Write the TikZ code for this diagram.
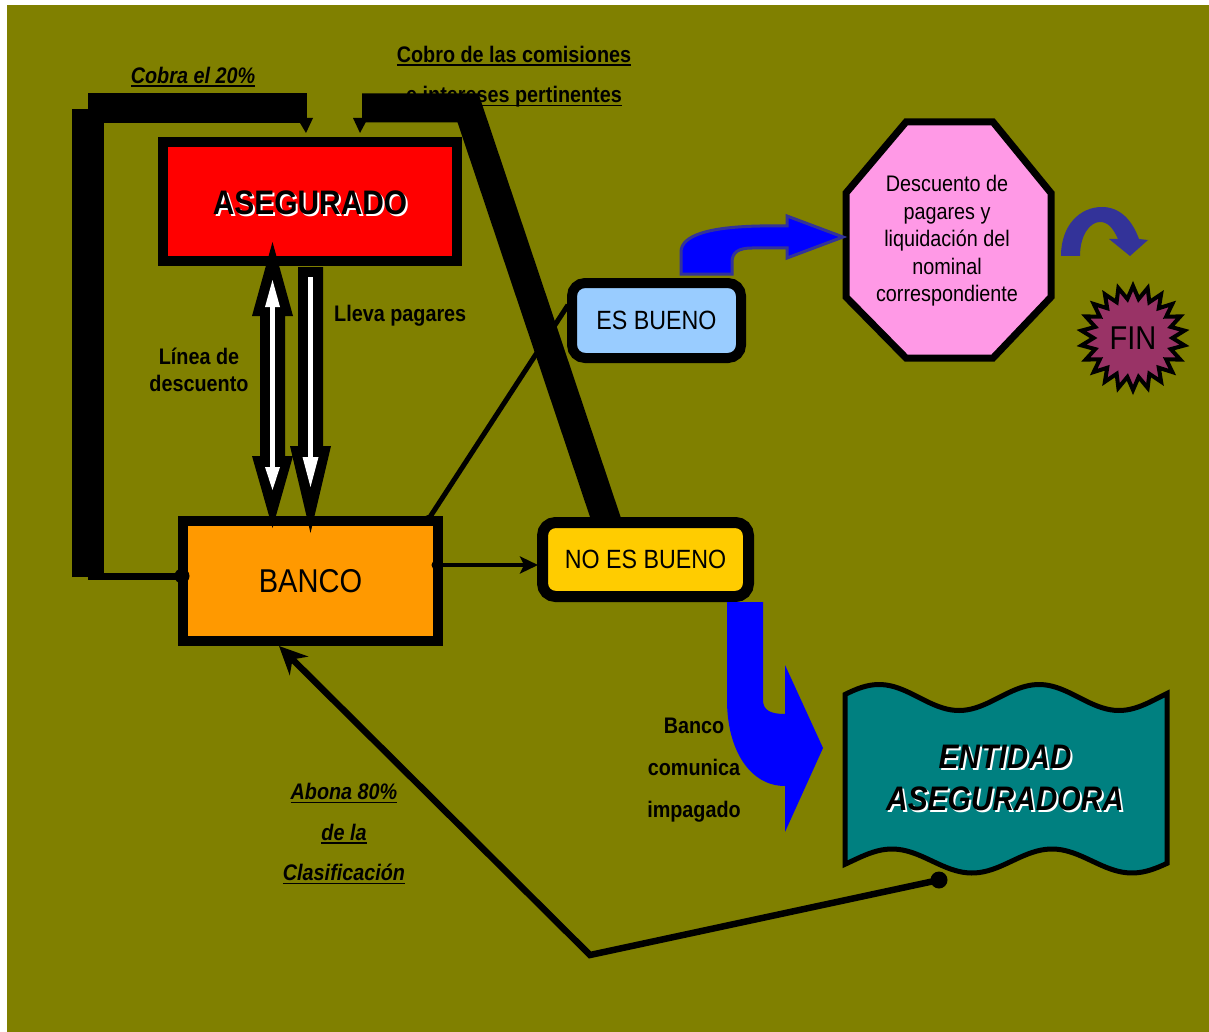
\documentclass[tikz,border=0pt]{standalone}
\usepackage{fontspec}
\setmainfont[FakeStretch=0.88]{Liberation Sans}
\usetikzlibrary{shapes.geometric,arrows.meta,calc}
\definecolor{bgolive}{HTML}{808000}
\definecolor{asred}{HTML}{FF0000}
\definecolor{bankorange}{HTML}{FF9900}
\definecolor{goodblue}{HTML}{99CCFF}
\definecolor{badyellow}{HTML}{FFCC00}
\definecolor{octpink}{HTML}{FF99E6}
\definecolor{entteal}{HTML}{008080}
\definecolor{finpurple}{HTML}{993366}
\definecolor{bblue}{HTML}{0000FF}
\definecolor{slateb}{HTML}{333399}
\newcommand\myul[1]{\setbox0\hbox{#1}\rlap{\rule[-3.5pt]{\wd0}{1.8pt}}\box0}
\tikzset{
  box/.style={draw=black, line width=10pt, inner sep=0pt},
  lbl/.style={font=\bfseries\fontsize{22.5}{27}\selectfont, text=black, inner sep=0pt, align=center},
  ilbl/.style={font=\bfseries\itshape\fontsize{22.5}{27}\selectfont, text=black, inner sep=0pt, align=center},
  bigtitle/.style={font=\bfseries\fontsize{34}{42}\selectfont, inner sep=0pt, align=center},
  ibigtitle/.style={font=\bfseries\itshape\fontsize{34}{42}\selectfont, inner sep=0pt, align=center},
  band/.style={draw=black, line width=30pt, line cap=butt},
  conn/.style={draw=black, line width=5pt},
  dotmark/.style={fill=black}
}
\begin{document}
\begin{tikzpicture}[x=1pt,y=-1pt]
\useasboundingbox (0,0) rectangle (1209,1032);
\fill[white] (0,0) rectangle (1209,1032);
\fill[bgolive] (7,5) rectangle (1209,1032);

% top labels (behind bands)
\node[ilbl] (cobra) at (193,77) {\myul{Cobra el 20\%}};
\node[lbl] (cobro1) at (514,56) {\myul{Cobro de las comisiones}};
\node[lbl] (cobro2) at (514,97) {\myul{e intereses pertinentes}};

% thin connectors
\coordinate (bancoNE) at (428,520);
\coordinate (buenoIn) at (568,305);
\draw[conn] (bancoNE) -- (buenoIn);

% thick bands
\coordinate (lbot) at (88,577);
\coordinate (lcorner) at (88,108);
\coordinate (lend) at (307,108);
\draw[band, line width=32pt] (lbot) -- ($(lcorner)+(0,1)$);
\draw[band] (lcorner) -- (lend);
\fill[black] (297,118) -- (313,118) -- (306,133) -- cycle;
\coordinate (rstart) at (362,108);
\coordinate (rcorner) at (468,108);
\coordinate (rend) at (607,522);
\draw[band, line width=29pt, line join=miter] (rstart) -- (rcorner) -- (rend);
\fill[black] (353,118) -- (368,118) -- (360,133) -- cycle;

% left connector to BANCO
\coordinate (bancoW) at (182,576);
\draw[draw=black, line width=7pt] (88,576) -- (bancoW);

% boxes
\node[box, fill=asred, minimum width=294pt, minimum height=119pt] (aseg) at (310,201.5) {};
\node[bigtitle, text=white] (asegsh) at (312,205) {ASEGURADO};
\node[bigtitle, text=black] (asegt) at (310,203) {ASEGURADO};

\node[box, fill=bankorange, minimum width=255pt, minimum height=120pt,
      font=\fontsize{33}{38}\selectfont] (banco) at (310.5,581) {BANCO};
\fill[dotmark] (bancoW) circle (7.5);
\fill[dotmark] (bancoNE) circle (5);

\node[box, rounded corners=13pt, fill=goodblue, minimum width=169pt, minimum height=75pt,
      font=\fontsize{26.4}{30}\selectfont] (bueno) at (656.5,320.5) {ES BUENO};
\node[box, line width=11pt, rounded corners=13pt, fill=badyellow, minimum width=206pt, minimum height=74pt,
      font=\fontsize{26.4}{30}\selectfont] (nobueno) at (645.5,559.5) {NO ES BUENO};

% BANCO -> NO ES BUENO
\coordinate (bancoE) at (436,565);
\coordinate (nobuenoW) at (538,565);
\draw[conn, line width=4.5pt, -{Stealth[length=18pt,width=17pt,inset=4pt]}] (bancoE) -- (nobuenoW);
\fill[dotmark] (bancoE) circle (4.5);

% arrows between ASEGURADO and BANCO
\fill[black] (272.5,242) -- (293,316) -- (285,316) -- (285,456) -- (293,456) -- (272.5,528)
   -- (252,456) -- (260,456) -- (260,316) -- (252,316) -- cycle;
\draw[white, line width=4.5pt] (272.5,300) -- (272.5,470);
\fill[white] (272.5,280) -- (280,307) -- (265,307) -- cycle;
\fill[white] (265,467) -- (280,467) -- (272.5,490) -- cycle;

\fill[black] (298,267) -- (323,267) -- (323,446) -- (331,446) -- (310.5,533) -- (290,446) -- (298,446) -- cycle;
\draw[white, line width=4.5pt] (310.5,277) -- (310.5,460);
\fill[white] (302.5,457) -- (318.5,457) -- (310.5,487) -- cycle;

\node[lbl] (linea) at (199,370) {Línea de\\descuento};
\node[lbl, anchor=west] (lleva) at (334,316) {Lleva pagares};

% octagon
\draw[line width=7pt, fill=octpink, line join=miter]
  (906,122) -- (993,122) -- (1051,193) -- (1051,297) -- (993,358) -- (906,358) -- (846,297) -- (846,193) -- cycle;
\node[inner sep=0pt, align=center, font=\fontsize{22.5}{27.5}\selectfont] (octtext) at (947,241)
  {Descuento de\\pagares y\\liquidación del\\nominal\\correspondiente};

% blue curved arrow ES BUENO -> octagon
\draw[fill=bblue, draw=slateb, line width=3pt, line join=miter]
  (681,274) -- (681,252) .. controls (681,235) and (710,227) .. (760,226) -- (787,226) -- (787,216)
  -- (843,237) -- (787,258) -- (787,248) -- (752,248) .. controls (739,248) and (732,252) .. (732,262)
  -- (732,274) -- cycle;

% curved arrow to FIN
\fill[slateb] (1061,256) .. controls (1061,225) and (1080,207) .. (1102,207)
  .. controls (1120,207) and (1132,220) .. (1139,239) -- (1148,240) -- (1130,256) -- (1109,239)
  -- (1118,239) .. controls (1113,228) and (1108,222) .. (1100,222)
  .. controls (1090,222) and (1080,235) .. (1080,256) -- cycle;

% FIN
\node[star, star points=22, star point ratio=1.32, minimum size=104pt, draw=black, line width=4pt,
      fill=finpurple, inner sep=0pt, font=\fontsize{33}{36}\selectfont] (fin) at (1133,338) {FIN};

% blue J arrow NO ES BUENO -> ENTIDAD
\fill[bblue] (727,602) -- (763,602) -- (763,700) .. controls (763,710) and (770,714) .. (785,714)
  -- (785,665) -- (823,748) -- (785,832) -- (785,786) .. controls (750,786) and (727,750) .. (727,700) -- cycle;
\node[lbl, font=\bfseries\fontsize{22.5}{42}\selectfont] (comunica) at (694,770) {Banco\\comunica\\impagado};

% ENTIDAD ASEGURADORA wave
\draw[line width=5pt, fill=entteal, line join=miter]
  plot[domain=845:1167, samples=80] (\x, {697.5-13*cos(2.25*(\x-879))})
  -- plot[domain=1167:845, samples=80] (\x, {861-12*cos(2.25*(\x-892))}) -- cycle;
\node[ibigtitle, text=white] (entsh) at (1007,780) {ENTIDAD\\ASEGURADORA};
\node[ibigtitle, text=black] (entt) at (1005,778) {ENTIDAD\\ASEGURADORA};

% ENTIDAD -> BANCO
\coordinate (entdot) at (939,880);
\coordinate (elbow) at (590,955);
\coordinate (bancoS) at (279,646);
\draw[draw=black, line width=6.5pt, line join=miter, -{Stealth[length=28pt,width=26pt,inset=9pt]}]
  (entdot) -- (elbow) -- (bancoS);
\fill[dotmark] (entdot) circle (8.5);

\node[ilbl, font=\bfseries\itshape\fontsize{22.5}{40.5}\selectfont] (abona) at (344,834)
  {\myul{Abona 80\%}\\\myul{de la}\\\myul{Clasificación}};
\end{tikzpicture}
\end{document}
